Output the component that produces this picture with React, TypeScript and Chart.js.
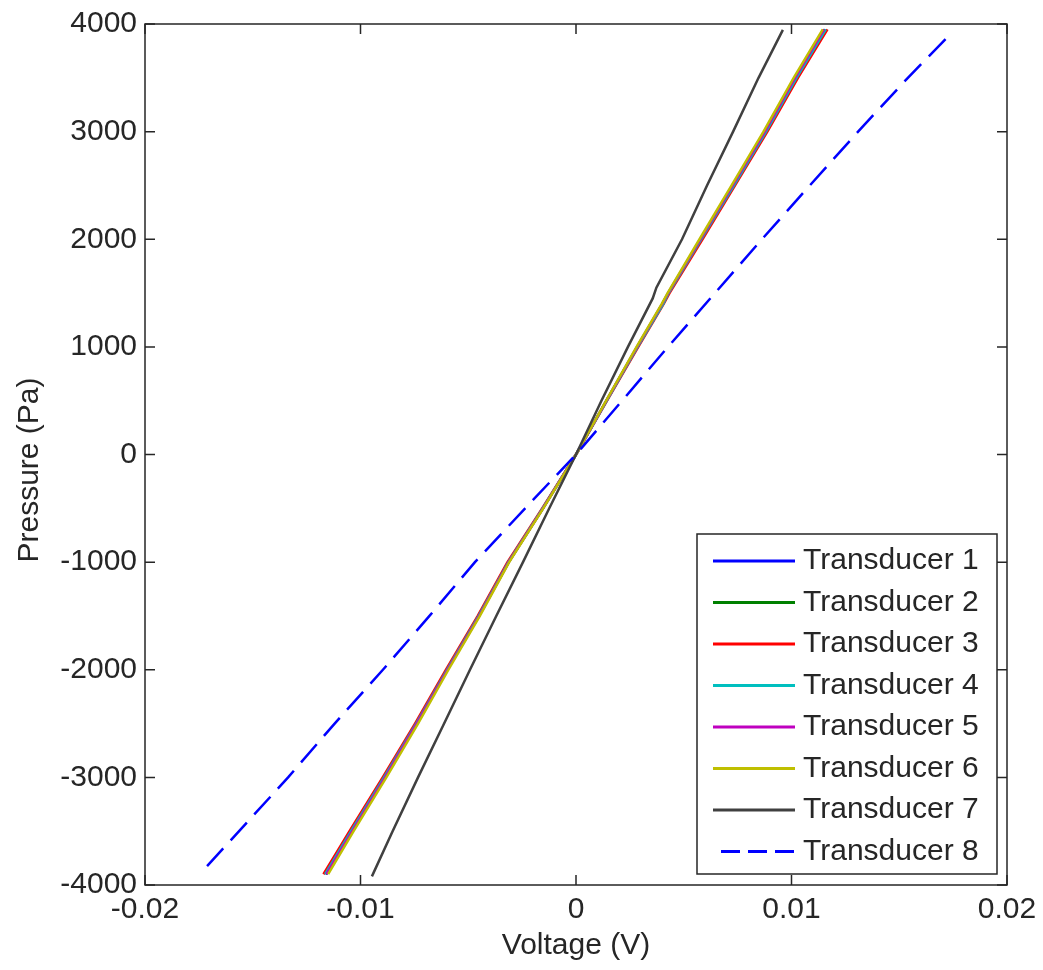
import { useEffect, useRef } from "react";
import { Chart, registerables } from "chart.js";

Chart.register(...registerables);

// Axis ticks
const X_TICKS = [-0.02, -0.01, 0, 0.01, 0.02];
const X_TICK_LABELS = ["-0.02", "-0.01", "0", "0.01", "0.02"];
const Y_TICKS = [-4000, -3000, -2000, -1000, 0, 1000, 2000, 3000, 4000];
const Y_TICK_LABELS = ["-4000", "-3000", "-2000", "-1000", "0", "1000", "2000", "3000", "4000"];

const X_TITLE = "Voltage (V)";
const Y_TITLE = "Pressure (Pa)";

const SERIES_NAMES = [
  "Transducer 1",
  "Transducer 2",
  "Transducer 3",
  "Transducer 4",
  "Transducer 5",
  "Transducer 6",
  "Transducer 7",
  "Transducer 8",
];

// Calibration sweeps: pressure (Pa) against measured voltage (V)
const PRESSURE_T1_T6 = [-3900, -3500, -3000, -2500, -2000, -1500, -1000, -500, 0, 500, 1000, 1400, 1500, 2000, 2500, 3000, 3500, 3950];
const VOLTAGE_T1 = [-0.01162, -0.01042, -0.0089, -0.00741, -0.00598, -0.00451, -0.00313, -0.00154, 0, 0.00142, 0.00285, 0.00402, 0.00429, 0.0058, 0.0073, 0.00879, 0.0102, 0.01156];
const VOLTAGE_T2 = [-0.0116, -0.0104, -0.00888, -0.0074, -0.00597, -0.0045, -0.00312, -0.00153, 0, 0.00141, 0.00284, 0.00401, 0.00428, 0.00578, 0.00728, 0.00877, 0.01018, 0.01153];
const VOLTAGE_T3 = [-0.01172, -0.01051, -0.00897, -0.00747, -0.00604, -0.00456, -0.00318, -0.00157, 0, 0.00144, 0.00289, 0.00407, 0.00434, 0.00587, 0.00738, 0.00888, 0.0103, 0.01167];
const VOLTAGE_T4 = [-0.01164, -0.01044, -0.00891, -0.00742, -0.00599, -0.00452, -0.00314, -0.00155, 0, 0.00143, 0.00286, 0.00405, 0.0043, 0.00581, 0.00733, 0.00882, 0.01023, 0.01159];
const VOLTAGE_T5 = [-0.01158, -0.01038, -0.00886, -0.00739, -0.00596, -0.00449, -0.00312, -0.00153, 0, 0.00141, 0.00283, 0.004, 0.00427, 0.00577, 0.00727, 0.00876, 0.01016, 0.01151];
const VOLTAGE_T6 = [-0.0115, -0.01032, -0.0088, -0.00733, -0.00592, -0.00446, -0.0031, -0.00152, 0, 0.0014, 0.00281, 0.00398, 0.00425, 0.00573, 0.00722, 0.0087, 0.0101, 0.01145];

const PRESSURE_T7 = [-3920, -3500, -3000, -2500, -2000, -1500, -1000, -500, 0, 500, 1000, 1450, 1550, 2000, 2500, 3000, 3500, 3946];
const VOLTAGE_T7 = [-0.00947, -0.00851, -0.00733, -0.00612, -0.00492, -0.0037, -0.00246, -0.00124, 0, 0.00118, 0.00241, 0.00356, 0.00373, 0.00492, 0.00608, 0.00729, 0.00847, 0.0096];

const PRESSURE_T8 = [-3825, -3000, -2500, -2000, -1500, -1000, -500, 0, 500, 1000, 1500, 2000, 2500, 3000, 3500, 3928];
const VOLTAGE_T8 = [-0.01712, -0.01336, -0.0112, -0.00896, -0.0068, -0.00469, -0.00236, 0, 0.00214, 0.00427, 0.00645, 0.00863, 0.01085, 0.01309, 0.0154, 0.01748];

const SERIES_PRESSURE = [PRESSURE_T1_T6, PRESSURE_T1_T6, PRESSURE_T1_T6, PRESSURE_T1_T6, PRESSURE_T1_T6, PRESSURE_T1_T6, PRESSURE_T7, PRESSURE_T8];
const SERIES_VOLTAGE = [VOLTAGE_T1, VOLTAGE_T2, VOLTAGE_T3, VOLTAGE_T4, VOLTAGE_T5, VOLTAGE_T6, VOLTAGE_T7, VOLTAGE_T8];

// Styling
const SERIES_COLORS = ["#0000ff", "#008000", "#ff0000", "#00bfbf", "#bf00bf", "#bfbf00", "#404040", "#0000ff"];
const SERIES_DASHES: number[][] = [[], [], [], [], [], [], [], [24, 11]];

const FONT_FAMILY = "'Liberation Sans', Arial, Helvetica, sans-serif";
const FONT_SIZE = 30;
const INK = "#262626";

const W = 1043;
const H = 970;

const axesPlugin = {
  id: "boxedAxes",
  afterDraw(chart: any) {
    const { ctx, chartArea } = chart;
    const xs = chart.scales.x;
    const ys = chart.scales.y;
    const { left, right, top, bottom } = chartArea;
    const tick = 10;

    ctx.save();
    ctx.strokeStyle = INK;
    ctx.lineWidth = 1.5;
    ctx.setLineDash([]);
    ctx.strokeRect(left, top, right - left, bottom - top);

    // inward ticks on all four sides
    ctx.beginPath();
    for (const v of X_TICKS) {
      const px = xs.getPixelForValue(v);
      ctx.moveTo(px, bottom);
      ctx.lineTo(px, bottom - tick);
      ctx.moveTo(px, top);
      ctx.lineTo(px, top + tick);
    }
    for (const v of Y_TICKS) {
      const py = ys.getPixelForValue(v);
      ctx.moveTo(left, py);
      ctx.lineTo(left + tick, py);
      ctx.moveTo(right, py);
      ctx.lineTo(right - tick, py);
    }
    ctx.stroke();

    // axis titles
    ctx.fillStyle = INK;
    ctx.font = `${FONT_SIZE}px ${FONT_FAMILY}`;
    ctx.textAlign = "center";
    ctx.textBaseline = "middle";
    ctx.fillText(X_TITLE, (left + right) / 2, 946);
    ctx.save();
    ctx.translate(30, 470);
    ctx.rotate(-Math.PI / 2);
    ctx.fillText(Y_TITLE, 0, 0);
    ctx.restore();

    // legend box
    const lx = 697;
    const ly = 534;
    const lw = 300;
    const lh = 340;
    ctx.fillStyle = "#ffffff";
    ctx.fillRect(lx, ly, lw, lh);
    ctx.strokeStyle = INK;
    ctx.lineWidth = 1.5;
    ctx.strokeRect(lx, ly, lw, lh);

    const rowH = 41.5;
    chart.data.datasets.forEach((ds: any, i: number) => {
      const y = ly + 27 + i * rowH;
      const dashed = ds.borderDash && ds.borderDash.length > 0;
      ctx.beginPath();
      ctx.strokeStyle = ds.borderColor;
      ctx.lineWidth = 3;
      ctx.setLineDash(dashed ? [19, 8] : []);
      ctx.moveTo(dashed ? 721 : 713, y);
      ctx.lineTo(795, y);
      ctx.stroke();
      ctx.setLineDash([]);
      ctx.fillStyle = INK;
      ctx.textAlign = "left";
      ctx.textBaseline = "middle";
      ctx.fillText(ds.label, 803, y);
    });
    ctx.restore();
  },
};

export default function App() {
  const canvasRef = useRef<HTMLCanvasElement | null>(null);

  useEffect(() => {
    const canvas = canvasRef.current;
    if (!canvas) return;

    const datasets = SERIES_NAMES.map((name, i) => ({
      label: name,
      data: SERIES_PRESSURE[i].map((p, k) => ({ x: SERIES_VOLTAGE[i][k], y: p })),
      borderColor: SERIES_COLORS[i],
      backgroundColor: SERIES_COLORS[i],
      borderWidth: 2.5,
      borderDash: SERIES_DASHES[i],
      pointRadius: 0,
      showLine: true,
      fill: false,
      tension: 0,
      order: SERIES_NAMES.length - i,
    }));

    const tickFont = { family: FONT_FAMILY, size: FONT_SIZE };

    const chart = new Chart(canvas, {
      type: "scatter",
      data: { datasets },
      options: {
        animation: false,
        responsive: false,
        maintainAspectRatio: false,
        devicePixelRatio: 1,
        layout: { padding: { left: 0, top: 24, right: 36, bottom: 0 } },
        plugins: {
          legend: { display: false },
          tooltip: { enabled: false },
        },
        scales: {
          x: {
            type: "linear",
            min: -0.02,
            max: 0.02,
            grid: { display: false, drawTicks: false },
            border: { display: false },
            afterBuildTicks: (scale: any) => {
              scale.ticks = X_TICKS.map((v) => ({ value: v }));
            },
            afterFit: (scale: any) => {
              scale.height = 85;
              scale.paddingLeft = 0;
              scale.paddingRight = 0;
            },
            ticks: {
              color: INK,
              font: tickFont,
              padding: 7,
              maxRotation: 0,
              autoSkip: false,
              callback: (v: any) => {
                const idx = X_TICKS.findIndex((t) => Math.abs(t - Number(v)) < 1e-9);
                return idx >= 0 ? X_TICK_LABELS[idx] : "";
              },
            },
          },
          y: {
            type: "linear",
            min: -4000,
            max: 4000,
            grid: { display: false, drawTicks: false },
            border: { display: false },
            afterBuildTicks: (scale: any) => {
              scale.ticks = Y_TICKS.map((v) => ({ value: v }));
            },
            afterFit: (scale: any) => {
              scale.width = 145;
              scale.paddingTop = 0;
              scale.paddingBottom = 0;
            },
            ticks: {
              color: INK,
              font: tickFont,
              padding: 8,
              autoSkip: false,
              callback: (v: any) => {
                const idx = Y_TICKS.indexOf(Number(v));
                return idx >= 0 ? Y_TICK_LABELS[idx] : "";
              },
            },
          },
        },
      },
      plugins: [axesPlugin],
    });

    return () => chart.destroy();
  }, []);

  return (
    <div style={{ position: "absolute", left: 0, top: 0, width: W, height: H, background: "#fff" }}>
      <canvas ref={canvasRef} width={W} height={H} style={{ width: W, height: H, display: "block" }} />
    </div>
  );
}
